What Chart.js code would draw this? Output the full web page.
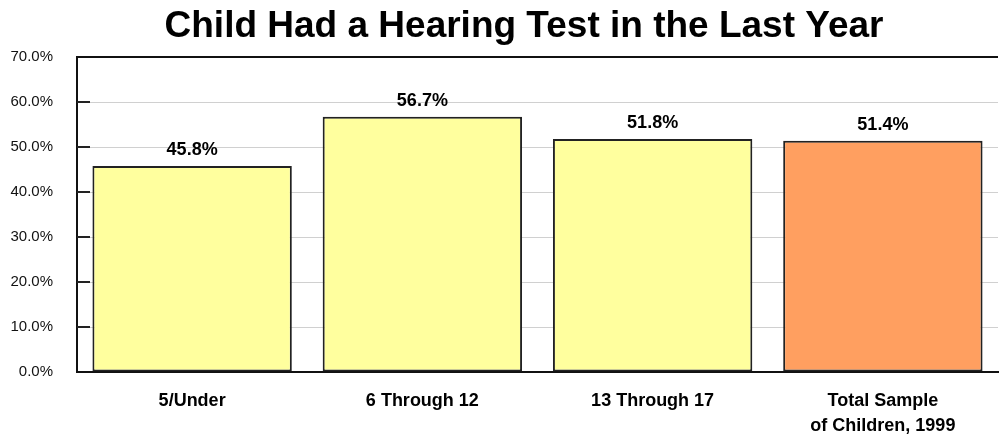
<!DOCTYPE html>
<html>
<head>
<meta charset="utf-8">
<title>Child Had a Hearing Test in the Last Year</title>
<script src="https://cdn.jsdelivr.net/npm/chart.js@4/dist/chart.umd.min.js"></script>
<style>
  html, body { margin: 0; padding: 0; background: #fff; }
  #wrap { width: 999px; height: 436px; position: relative; }
</style>
</head>
<body>
<div id="wrap"><canvas id="hearingChart" width="999" height="436"></canvas></div>
<script>
// Share of children with a hearing test in the past year, by age group
const categories = ['5/Under', '6 Through 12', '13 Through 17', ['Total Sample', 'of Children, 1999']];
const hearingTestPct = [45.8, 56.7, 51.8, 51.4];
const barColors = ['#FFFF9E', '#FFFF9E', '#FFFF9E', '#FF9F60'];
const yTicks = [0, 10, 20, 30, 40, 50, 60, 70];

const FONT = "'Liberation Sans', Arial, Helvetica, sans-serif";
const titleText = 'Child Had a Hearing Test in the Last Year';

// Title, inward tick marks and value labels drawn on top of the chart
const decorations = {
    id: 'decorations',
    afterDatasetsDraw(chart) {
        const ctx = chart.ctx;
        const yScale = chart.scales.y;
        const area = chart.chartArea;

        ctx.save();
        // short tick marks pointing into the plot
        ctx.strokeStyle = '#222';
        ctx.lineWidth = 2;
        yTicks.forEach(v => {
            if (v === 0 || v === 70) return;
            const y = Math.round(yScale.getPixelForValue(v));
            ctx.beginPath();
            ctx.moveTo(area.left, y);
            ctx.lineTo(area.left + 13, y);
            ctx.stroke();
        });

        // value labels above each bar
        const meta = chart.getDatasetMeta(0);
        ctx.fillStyle = '#000';
        ctx.font = 'bold 18px ' + FONT;
        ctx.textAlign = 'center';
        ctx.textBaseline = 'alphabetic';
        meta.data.forEach((bar, i) => {
            ctx.fillText(hearingTestPct[i].toFixed(1) + '%', bar.x, bar.y - 11);
        });

        // chart title
        ctx.font = 'bold 37px ' + FONT;
        ctx.fillText(titleText, 524, 37);
        ctx.restore();
    }
};

new Chart(document.getElementById('hearingChart'), {
    type: 'bar',
    data: {
        labels: categories,
        datasets: [{
            data: hearingTestPct,
            backgroundColor: barColors,
            borderColor: '#222',
            borderWidth: 2,
            borderSkipped: false,
            categoryPercentage: 1.0,
            barPercentage: 0.866
        }]
    },
    options: {
        responsive: false,
        animation: false,
        devicePixelRatio: 1,
        layout: {
            padding: { top: 57, left: 10, right: 1, bottom: 0 }
        },
        plugins: {
            legend: { display: false },
            tooltip: { enabled: false },
            title: { display: false }
        },
        scales: {
            x: {
                grid: { display: false, drawTicks: false },
                border: { display: true, color: '#111', width: 2 },
                ticks: {
                    color: '#000',
                    padding: 16,
                    font: { family: FONT, size: 18, weight: 'bold', lineHeight: 1.4 }
                },
                afterFit(scale) { scale.height = 64; }
            },
            y: {
                min: 0,
                max: 70,
                afterBuildTicks(scale) {
                    scale.ticks = yTicks.map(v => ({ value: v }));
                },
                grid: {
                    drawTicks: false,
                    color: c => (c.tick && c.tick.value === 70) ? '#111' : '#d0d0d0',
                    lineWidth: c => (c.tick && c.tick.value === 70) ? 2 : 1
                },
                border: { display: true, color: '#111', width: 2 },
                ticks: {
                    color: '#111',
                    padding: 24,
                    font: { family: FONT, size: 15 },
                    callback: v => v.toFixed(1) + '%'
                },
                afterFit(scale) { scale.width = 67; }
            }
        }
    },
    plugins: [decorations]
});
</script>
</body>
</html>
